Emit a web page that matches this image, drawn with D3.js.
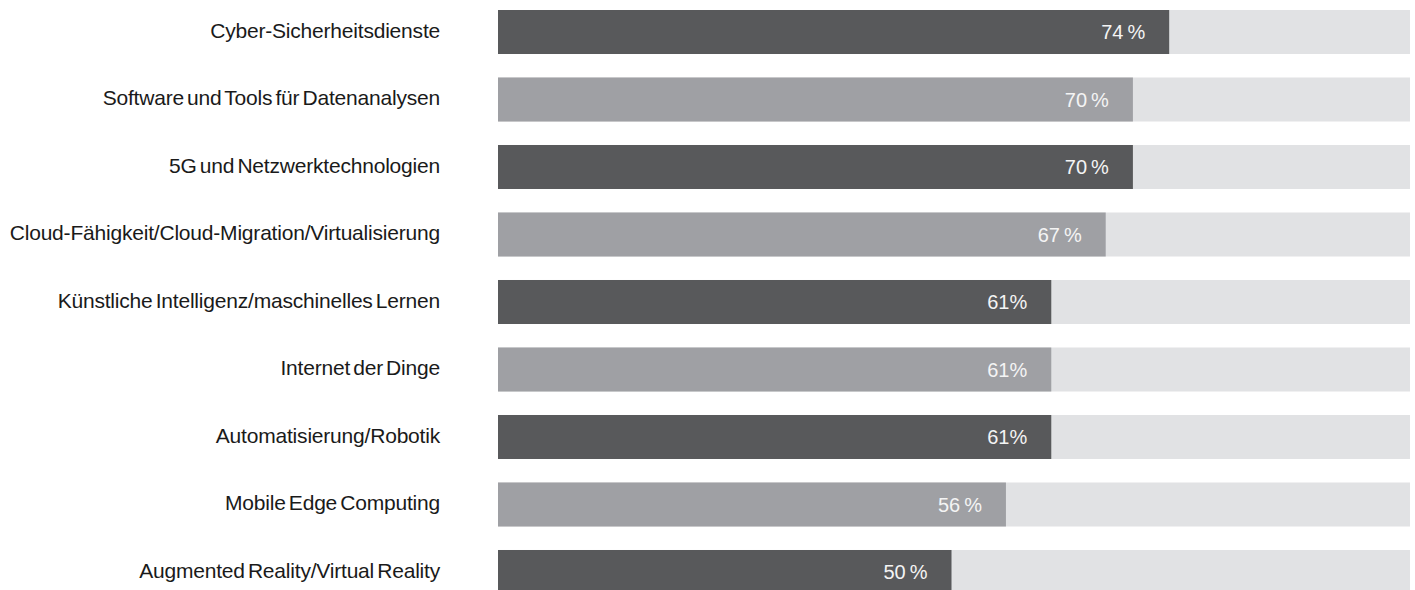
<!DOCTYPE html>
<html>
<head>
<meta charset="utf-8">
<script src="https://cdn.jsdelivr.net/npm/d3@7"></script>
<style>
  body { margin: 0; background: #fff; }
  svg { display: block; }
</style>
</head>
<body>
<div id="chart"></div>
<script>
// categories, top to bottom
const categories = [
  "Cyber-Sicherheitsdienste",
  "Software und Tools für Datenanalysen",
  "5G und Netzwerktechnologien",
  "Cloud-Fähigkeit/Cloud-Migration/Virtualisierung",
  "Künstliche Intelligenz/maschinelles Lernen",
  "Internet der Dinge",
  "Automatisierung/Robotik",
  "Mobile Edge Computing",
  "Augmented Reality/Virtual Reality"
]
// share in percent
const values = [74, 70, 70, 67, 61, 61, 61, 56, 50]
const valueLabels = ["74\u2009%", "70\u2009%", "70\u2009%", "67\u2009%", "61%", "61%", "61%", "56\u2009%", "50\u2009%"]

const params = {
  width: 1415,
  height: 590,
  barLeft: 498,
  barRight: 1410,
  top: 10,
  bottom: 594,
  labelRight: 440
}

const svg = d3.select("#chart").append("svg")
  .attr("width", params.width)
  .attr("height", params.height)

const xMax = 100.55
const x = d3.scaleLinear()
  .domain([0, xMax])
  .range([params.barLeft, params.barRight])

const y = d3.scaleBand()
  .domain(categories)
  .range([params.top, params.bottom])
  .paddingInner(0.348)
  .paddingOuter(0)

const rows = svg.selectAll("g.row")
  .data(categories.map((c, i) => ({ c, v: values[i], lab: valueLabels[i], i })))
  .enter().append("g")
  .attr("class", "row")

// background track
rows.append("rect")
  .attr("x", x(0))
  .attr("y", d => y(d.c))
  .attr("width", x(xMax) - x(0))
  .attr("height", y.bandwidth())
  .attr("fill", "#e1e2e4")

// value bar
rows.append("rect")
  .attr("x", x(0))
  .attr("y", d => y(d.c))
  .attr("width", d => x(d.v) - x(0))
  .attr("height", y.bandwidth())
  .attr("fill", d => d.i % 2 === 0 ? "#58595b" : "#9fa0a4")

// category labels
rows.append("text")
  .attr("x", params.labelRight)
  .attr("y", d => y(d.c) + y.bandwidth() / 2)
  .attr("dy", "0.28em")
  .attr("text-anchor", "end")
  .attr("font-family", "'Liberation Sans', Arial, sans-serif")
  .attr("font-size", "21px")
  .attr("letter-spacing", "-0.2px")
  .attr("word-spacing", "-2.5px")
  .attr("fill", "#1a1a1a")
  .text(d => d.c)

// value labels inside bars
rows.append("text")
  .attr("x", d => x(d.v) - 24)
  .attr("y", d => y(d.c) + y.bandwidth() / 2)
  .attr("dy", "0.37em")
  .attr("text-anchor", "end")
  .attr("font-family", "'Liberation Sans', Arial, sans-serif")
  .attr("font-size", "20px")
  .attr("fill", "#f4f4f4")
  .text(d => d.lab)
</script>
</body>
</html>
